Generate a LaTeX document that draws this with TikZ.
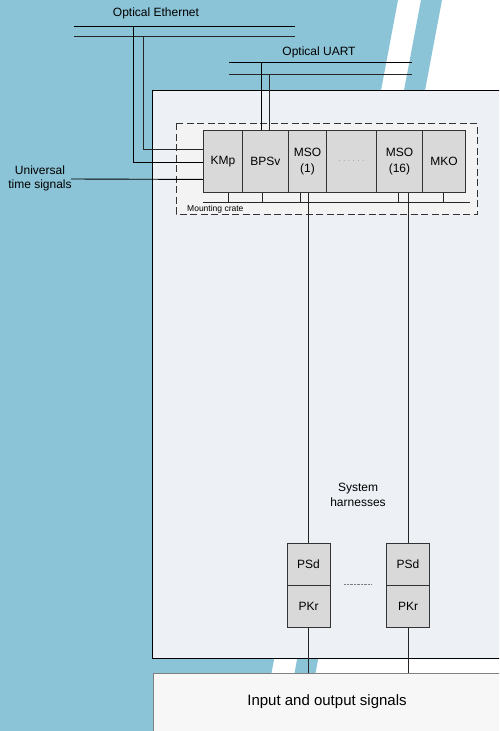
\documentclass[tikz,border=0pt]{standalone}
\usepackage{fontspec}
\setmainfont{Liberation Sans}
\usetikzlibrary{calc}

\definecolor{bgblue}{RGB}{139,195,215}
\definecolor{panelfill}{RGB}{237,240,245}
\definecolor{cratefill}{RGB}{243,243,243}
\definecolor{unitfill}{RGB}{217,217,217}
\definecolor{iofill}{RGB}{247,247,247}

\begin{document}
\begin{tikzpicture}[x=1pt, y=-1pt, font=\fontsize{12}{14}\selectfont,
    unit/.style={draw=black!80, fill=unitfill, line width=0.9pt, inner sep=0pt,
        anchor=north west, minimum height=62pt, align=center, font=\fontsize{12}{15.5}\selectfont},
    plug/.style={draw=black!80, fill=unitfill, line width=0.9pt, inner sep=0pt,
        minimum width=43pt, minimum height=42pt},
    wire/.style={line width=0.9pt, black!85}]
    \useasboundingbox (0,0) rectangle (499,731);
    \clip (0,0) rectangle (499,731);

    \begin{scope}
        \fill[white] (0,0) rectangle (499,731);
        \fill[bgblue] (0,0) -- (398,0) -- (260.6,731) -- (0,731) -- cycle;
        \fill[bgblue] (421,0) -- (442,0) -- (304.6,731) -- (283.6,731) -- cycle;
    \end{scope}

    \draw[fill=panelfill, line width=0.9pt] (152,90) rectangle (510,658);
    \draw[draw=black!80, fill=cratefill, dashed, dash pattern=on 7pt off 3.5pt, line width=0.9pt] (176,123) rectangle (477,214);
    \node[font=\fontsize{8.5}{9}\selectfont, anchor=west, inner sep=0pt] (cratelabel) at (187,209) {Mounting crate};

    \node[unit, minimum width=39pt] (KMp) at (203,130) {KMp};
    \node[unit, minimum width=46pt] (BPSv) at (242,130) {BPSv};
    \node[unit, minimum width=38pt] (MSOa) at (288,130) {MSO\\(1)};
    \node[unit, minimum width=50pt, text=black!50, font=\fontsize{7}{8}\selectfont] (MSOdots) at (326,130) {.\hspace{2.8pt}.\hspace{2.8pt}.\hspace{2.8pt}.\hspace{2.8pt}.\hspace{2.8pt}.};
    \node[unit, minimum width=46pt] (MSOb) at (376,130) {MSO\\(16)};
    \node[unit, minimum width=43pt] (MKO) at (422,130) {MKO};

    \coordinate (busL) at (203,202);
    \coordinate (busR) at (470,202);
    \draw[wire] (busL) -- (busR);
    \coordinate (busKMp) at (228,202);
    \coordinate (busBPSv) at (262,202);
    \coordinate (busMSOa) at (300,202);
    \coordinate (busMSOb) at (398,202);
    \coordinate (busMKO) at (443,202);
    \draw[wire] (busKMp) -- (busKMp |- KMp.south);
    \draw[wire] (busBPSv) -- (busBPSv |- BPSv.south);
    \draw[wire] (busMSOa) -- (busMSOa |- MSOa.south);
    \draw[wire] (busMSOb) -- (busMSOb |- MSOb.south);
    \draw[wire] (busMKO) -- (busMKO |- MKO.south);

    \node (eth) at (156,13) {Optical Ethernet};
    \draw[wire, black] (74,26) -- (295,26);
    \draw[wire] (74,36) -- (295,36);
    \coordinate (ethA) at (133,26);
    \coordinate (ethB) at (143,36);
    \draw[wire, black] (ethA) |- ([yshift=-1pt]KMp.west);
    \draw[wire] (ethB) |- ([yshift=12pt]KMp.west);

    \node[align=center] (utc) at (40,178) {Universal\\time signals};
    \coordinate (utcA) at (71,179);
    \draw[wire, black] (utcA) -- ([yshift=-18pt]KMp.west);

    \node (uart) at (319,52) {Optical UART};
    \draw[wire, black] (229,62) -- (412,62);
    \draw[wire] (229,74) -- (412,74);
    \coordinate (uartA) at (261,62);
    \coordinate (uartB) at (269,74);
    \draw[wire, black] (uartA) -- (uartA |- BPSv.north);
    \draw[wire] (uartB) -- (uartB |- BPSv.north);

    \node[plug] (PSda) at (308.5,564) {PSd};
    \node[plug] (PKra) at (308.5,606) {PKr};
    \node[plug] (PSdb) at (408,564) {PSd};
    \node[plug] (PKrb) at (408,606) {PKr};
    \draw[wire] (PSda.north) -- (PSda.north |- MSOa.south);
    \draw[wire] (PSdb.north) -- (PSdb.north |- MSOb.south);
    \draw[black!50, densely dotted] (344,584) -- (371,584);
    \node[align=center, font=\fontsize{12}{15}\selectfont] (harness) at (358,495) {System\\harnesses};

    \node[draw=black!50, fill=iofill, line width=0.9pt, inner sep=0pt, anchor=north west,
        minimum width=370pt, minimum height=80pt] (iobox) at (153,673) {};
    \node[font=\fontsize{15}{18}\selectfont] (iotext) at (327,702) {Input and output signals};
    \draw[wire] (PKra.south) -- (PKra.south |- iobox.north);
    \draw[wire] (PKrb.south) -- (PKrb.south |- iobox.north);
\end{tikzpicture}
\end{document}
